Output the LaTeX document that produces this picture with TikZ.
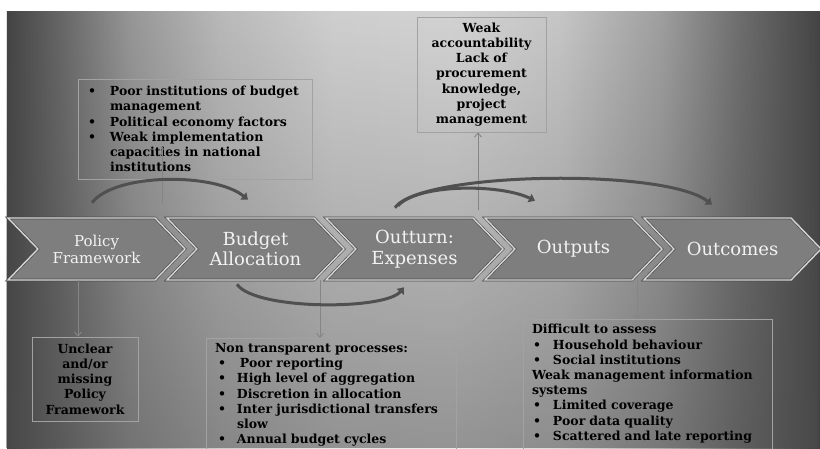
\documentclass[tikz,border=0pt]{standalone}
\usepackage{fontspec}
\setmainfont{DejaVu Serif}
\usetikzlibrary{arrows.meta,shapes.symbols,fadings}
\definecolor{chFill} {HTML}{7E7E7E}
\definecolor{chLine} {HTML}{4A4A4A}
\definecolor{chLight}{HTML}{D6D6D6}
\definecolor{chText} {HTML}{F2F2F2}
\definecolor{bxLine} {HTML}{A2A2A2}
\definecolor{arLine} {HTML}{858585}
\definecolor{arcLine}{HTML}{505050}
\definecolor{bgShade}{HTML}{4D4D4D}
\pgfdeclarehorizontalshading{bgband}{100bp}{color(0bp)=(black!74); color(25bp)=(black!74);
  color(28.3bp)=(black!58); color(32.6bp)=(black!36); color(38.1bp)=(black!20);
  color(44.9bp)=(black!10); color(52.2bp)=(black!8); color(59bp)=(black!14);
  color(65.2bp)=(black!32); color(70.1bp)=(black!55); color(75bp)=(black!74);
  color(100bp)=(black!74)}
\tikzfading[name=bgfade, top color=transparent!85, middle color=transparent!100, bottom color=transparent!45]
\newcommand{\bitem}[2][0pt]{\hspace*{#1}\makebox[#2][l]{\textbullet}}

\begin{document}
\begin{tikzpicture}[x=1pt,y=-1pt,
    ch/.style={signal,signal from=west,signal to=east,signal pointer angle=92,
      minimum width=177pt,minimum height=62pt,inner sep=0,fill=chFill,draw=chLine,
      line width=0.6pt,double=chLight,double distance=1.4pt,text=chText,align=center,
      font=\fontsize{18}{20}\selectfont},
    bx/.style={draw=bxLine,line width=0.7pt,font=\fontsize{12.5}{15.2}\selectfont\bfseries},
    e/.style={-{Straight Barb[length=4pt,width=7pt]},arLine,line width=0.9pt},
    ln/.style={arLine,line width=0.9pt},
    fb/.style={-{Triangle[length=6pt,width=9pt]},arcLine,line width=3pt}]
  \useasboundingbox (0,0) rectangle (820,448);
  \clip (0,0) rectangle (820,448);
  % backdrop
  \shade[shading=bgband] (7,11) rectangle (820,448);
  \fill[bgShade,path fading=bgfade] (7,11) rectangle (820,448);

  % chain of stages
  \node[ch,font=\fontsize{15}{17}\selectfont] (pf) at (96.5,249) {Policy\\Framework};
  \node[ch] (ba) at (255.5,249) {Budget\\Allocation};
  \node[ch,font=\fontsize{18}{21}\selectfont] (oe) at (414.5,249) {Outturn:\\Expenses};
  \node[ch] (op) at (573.5,249) {Outputs};
  \node[ch] (oc) at (732.5,249) {Outcomes};

  % weaknesses
  \node[bx,text width=214pt,inner xsep=10pt,minimum height=100pt,align=left] (pim) at (195,129)
    {\bitem{22pt}Poor institutions of budget\\
     \hspace*{22pt}management\\
     \bitem{22pt}Political economy factors\\
     \bitem{22pt}Weak implementation\\
     \hspace*{22pt}capacities in national\\
     \hspace*{22pt}institutions};
  \node[bx,text width=125pt,inner xsep=2pt,minimum height=115pt,align=center] (wac) at (481.5,74.5)
    {Weak\\accountability\\Lack of\\procurement\\knowledge,\\project\\management};
  \node[bx,text width=100pt,inner xsep=3pt,minimum height=84pt,align=center] (ump) at (85,379)
    {Unclear\\and/or\\missing\\Policy\\Framework};
  \node[bx,text width=232pt,inner xsep=9pt,inner ysep=5pt,anchor=north,align=left] (ntp) at (331,338)
    {Non transparent processes:\\
     \bitem[3pt]{22pt}Poor reporting\\
     \bitem[3pt]{19pt}High level of aggregation\\
     \bitem[3pt]{19pt}Discretion in allocation\\
     \bitem[3pt]{19pt}Inter jurisdictional transfers\\
     \hspace*{22pt}slow\\
     \bitem[3pt]{19pt}Annual budget cycles\\ \mbox{}};
  \node[bx,text width=231pt,inner xsep=9pt,inner ysep=5pt,anchor=north,align=left] (dta) at (647.5,319)
    {Difficult to assess\\
     \bitem[1pt]{20pt}Household behaviour\\
     \bitem[1pt]{20pt}Social institutions\\
     Weak management information\\
     systems\\
     \bitem[1pt]{20pt}Limited coverage\\
     \bitem[1pt]{20pt}Poor data quality\\
     \bitem[1pt]{20pt}Scattered and late reporting\\ \mbox{}};

  % links to the boxes
  \draw[e] ([xshift=-18.5pt]pf.south) -- ([xshift=-18.5pt]pf.south |- ump.north);
  \draw[e] ([xshift=64.5pt]ba.south) -- ([xshift=64.5pt]ba.south |- ntp.north);
  \draw[e] ([xshift=63.5pt]op.south) -- ([xshift=63.5pt]op.south |- dta.north);
  \draw[e] ([xshift=63.5pt,yshift=8pt]oe.north) -- ([xshift=63.5pt]oe.north |- wac.south);
  \draw[ln] ([xshift=65.5pt,yshift=15pt]pf.north) -- ([xshift=-33pt,yshift=32pt]pim.south);

  % feedback curves
  \draw[fb] ([xshift=-4.5pt,yshift=15pt]pf.north) .. controls +(23,-30) and +(-33,-27) .. ([xshift=-7.5pt,yshift=18pt]ba.north);
  \draw[fb] ([xshift=-19.5pt,yshift=10pt]oe.north) .. controls +(25,-36) and +(-47,-37) .. ([xshift=-20.5pt,yshift=13pt]oc.north);
  \draw[fb] ([xshift=-16.5pt,yshift=12pt]oe.north) .. controls +(20,-22) and +(-35,-17) .. ([xshift=-38.5pt,yshift=17pt]op.north);
  \draw[fb] ([xshift=-18.5pt,yshift=-4pt]ba.south) .. controls +(18,26) and +(-19,23) .. ([xshift=-10.5pt,yshift=-7pt]oe.south);
\end{tikzpicture}
\end{document}
